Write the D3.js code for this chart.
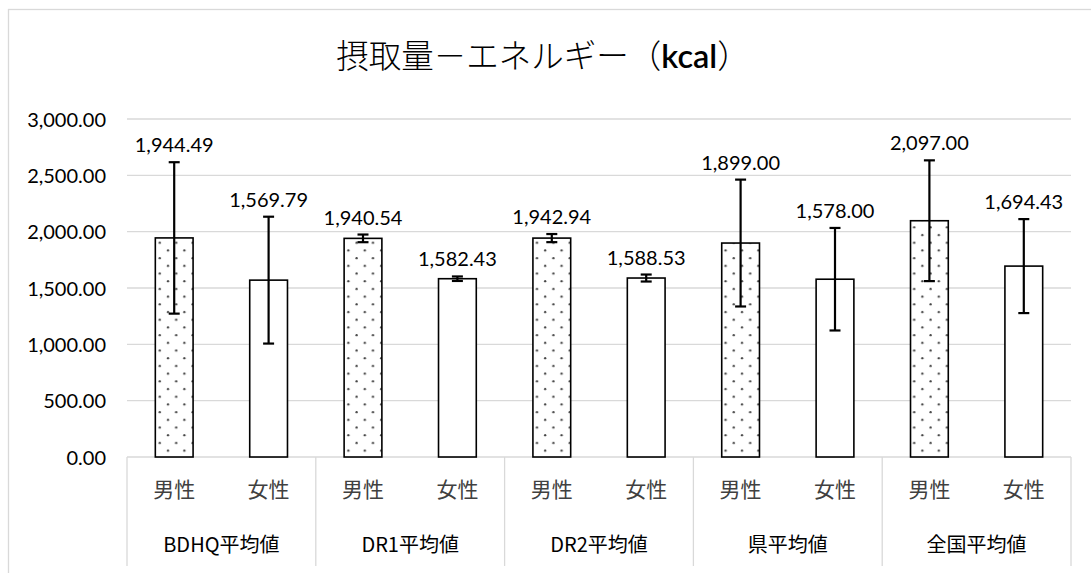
<!DOCTYPE html>
<html>
<head>
<meta charset="utf-8">
<script src="https://cdn.jsdelivr.net/npm/d3@7/dist/d3.min.js"></script>
<style>
  html, body { margin: 0; padding: 0; background: #fff; }
  svg { display: block; }
</style>
</head>
<body>
<svg id="chart" width="1091" height="573"></svg>
<script>
// ---- data ----
const groups = ["BDHQ平均値", "DR1平均値", "DR2平均値", "県平均値", "全国平均値"];
const sexes = ["男性", "女性"];
const maleValues = [1944.49, 1940.54, 1942.94, 1899.00, 2097.00];
const femaleValues = [1569.79, 1582.43, 1588.53, 1578.00, 1694.43];
const maleErrors = [672, 34, 36, 563, 536];
const femaleErrors = [563, 20, 31, 455, 417];
const yTicks = [0, 500, 1000, 1500, 2000, 2500, 3000];
const titleMain = "摂取量－エネルギー（";
const titleUnit = "kcal";
const titleEnd = "）";

// ---- build rows ----
const bars = [];
groups.forEach((g, i) => {
  bars.push({ key: g + "|" + sexes[0], group: g, sex: sexes[0], value: maleValues[i], err: maleErrors[i], dotted: true });
  bars.push({ key: g + "|" + sexes[1], group: g, sex: sexes[1], value: femaleValues[i], err: femaleErrors[i], dotted: false });
});

const svg = d3.select("#chart");
const W = 1091, H = 573;
const plot = { left: 127, right: 1071, top: 119, bottom: 457 };
const numFont = "Lato, 'Noto Sans', sans-serif";
const jpFont = "'Noto Sans CJK JP', 'Noto Sans', sans-serif";

// outer border
svg.append("rect")
  .attr("x", 8.5).attr("y", 9.5)
  .attr("width", W + 20).attr("height", H + 20)
  .attr("fill", "#fff").attr("stroke", "#d9d9d9").attr("stroke-width", 1.3);

// pattern
const defs = svg.append("defs");
const pat = defs.append("pattern")
  .attr("id", "dots").attr("patternUnits", "userSpaceOnUse")
  .attr("width", 16.4).attr("height", 15.4);
pat.append("rect").attr("width", 16.4).attr("height", 15.4).attr("fill", "#fff");
pat.append("circle").attr("cx", 4).attr("cy", 4).attr("r", 1.15).attr("fill", "#444");
pat.append("circle").attr("cx", 12.2).attr("cy", 11.7).attr("r", 1.15).attr("fill", "#444");

// scales
const x = d3.scaleBand().domain(bars.map(d => d.key)).range([plot.left, plot.right]).paddingInner(0).paddingOuter(0);
const xg = d3.scaleBand().domain(groups).range([plot.left, plot.right]);
const y = d3.scaleLinear().domain([0, 3000]).range([plot.bottom, plot.top]);

// gridlines
svg.append("g").selectAll("line").data(yTicks).join("line")
  .attr("x1", plot.left).attr("x2", plot.right)
  .attr("y1", d => y(d)).attr("y2", d => y(d))
  .attr("stroke", "#d9d9d9").attr("stroke-width", 1.3);

// y axis labels
const yAxis = d3.axisLeft(y).tickValues(yTicks).tickFormat(d3.format(",.2f")).tickSize(0).tickPadding(0);
const ya = svg.append("g").attr("transform", `translate(106,0)`).call(yAxis);
ya.select(".domain").remove();
ya.selectAll("text").attr("font-family", numFont).attr("font-size", 20).attr("fill", "#000").attr("dy", "0.35em");

// category axis lines
const sepX = groups.map(g => xg(g)).concat([plot.right]);
svg.append("g").selectAll("line").data(sepX).join("line")
  .attr("x1", d => d).attr("x2", d => d)
  .attr("y1", plot.bottom).attr("y2", 566)
  .attr("stroke", "#d9d9d9").attr("stroke-width", 1.3);

// bars
const bw = x.bandwidth() * 0.4;
svg.append("g").selectAll("rect").data(bars).join("rect")
  .attr("x", d => x(d.key) + (x.bandwidth() - bw) / 2)
  .attr("y", d => y(d.value))
  .attr("width", bw)
  .attr("height", d => y(0) - y(d.value))
  .attr("fill", d => d.dotted ? "url(#dots)" : "#fff")
  .attr("stroke", "#000").attr("stroke-width", 1.6);

// error bars
const eg = svg.append("g").attr("stroke", "#000").attr("stroke-width", 2.2);
const cx = d => x(d.key) + x.bandwidth() / 2;
const cap = 5.5;
bars.forEach(d => {
  const t = y(d.value + d.err), b = y(d.value - d.err), c = cx(d);
  eg.append("line").attr("x1", c).attr("x2", c).attr("y1", t).attr("y2", b);
  eg.append("line").attr("x1", c - cap).attr("x2", c + cap).attr("y1", t).attr("y2", t);
  eg.append("line").attr("x1", c - cap).attr("x2", c + cap).attr("y1", b).attr("y2", b);
});

// data labels
svg.append("g").selectAll("text").data(bars).join("text")
  .attr("x", d => cx(d))
  .attr("y", d => y(d.value + d.err) - 17)
  .attr("dy", "0.35em")
  .attr("text-anchor", "middle")
  .attr("font-family", numFont).attr("font-size", 20).attr("fill", "#000")
  .text(d => d3.format(",.2f")(d.value));

// category labels
svg.append("g").selectAll("text").data(bars).join("text")
  .attr("x", d => cx(d)).attr("y", 490).attr("dy", "0.35em")
  .attr("text-anchor", "middle")
  .attr("font-family", jpFont).attr("font-size", 21).attr("fill", "#404040")
  .text(d => d.sex);

svg.append("g").selectAll("text").data(groups).join("text")
  .attr("x", d => xg(d) + xg.bandwidth() / 2).attr("y", 545).attr("dy", "0.35em")
  .attr("text-anchor", "middle")
  .attr("font-family", jpFont).attr("font-size", 20).attr("fill", "#000")
  .text(d => d);

// title
const title = svg.append("text")
  .attr("x", 543).attr("y", 57).attr("dy", "0.35em")
  .attr("text-anchor", "middle")
  .attr("font-family", jpFont).attr("font-size", 32.5).attr("font-weight", 300).attr("fill", "#000");
title.append("tspan").text(titleMain);
title.append("tspan").attr("font-family", numFont).attr("font-weight", 600).text(titleUnit);
title.append("tspan").text(titleEnd);
</script>
</body>
</html>
